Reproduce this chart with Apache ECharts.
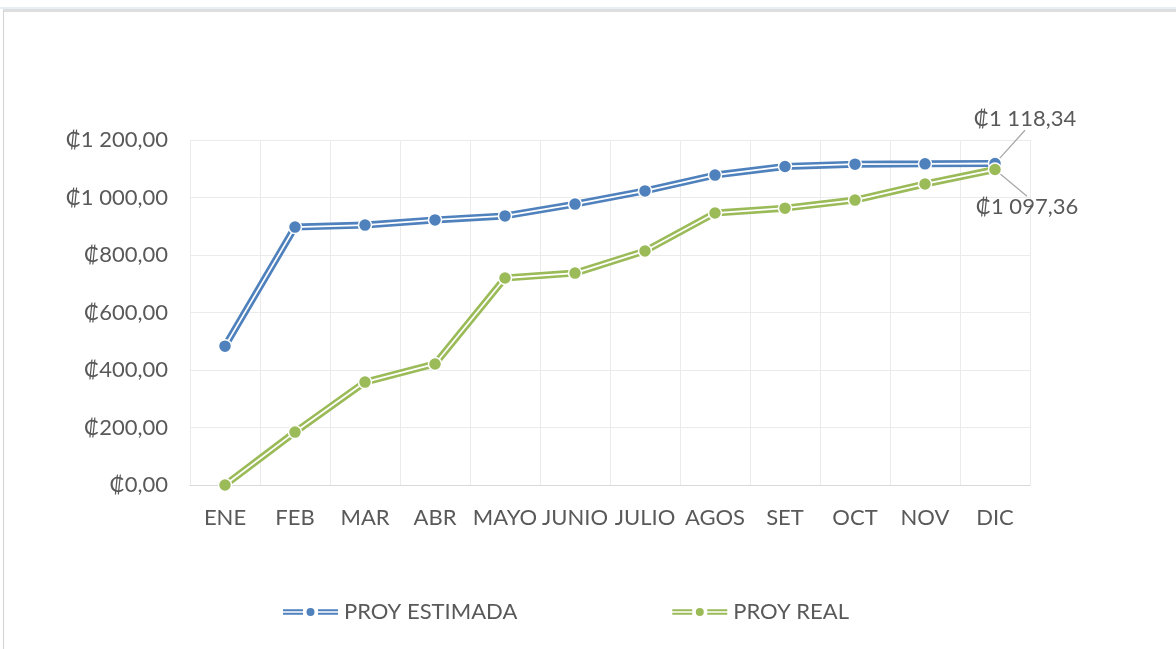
<!DOCTYPE html>
<html>
<head>
<meta charset="utf-8">
<script src="https://cdn.jsdelivr.net/npm/echarts@6/dist/echarts.min.js"></script>
<style>
body{margin:0;background:#fff;}
#chart{position:absolute;left:0;top:0;width:1176px;height:649px;}
.band{position:absolute;left:0;top:7px;width:1176px;height:2px;background:#e6eef6;pointer-events:none;}
.frame{position:absolute;left:3px;top:9px;width:1173px;height:640px;border-top:3px solid #dedede;border-left:1px solid #d2d2d2;pointer-events:none;}
</style>
</head>
<body>
<div id="chart"></div>
<div class="band"></div>
<div class="frame"></div>
<script>
// meses
var meses = ["ENE","FEB","MAR","ABR","MAYO","JUNIO","JULIO","AGOS","SET","OCT","NOV","DIC"];
// proyeccion estimada
var estimada = [483, 897, 904, 922, 936, 977, 1023, 1078, 1108, 1116, 1117, 1118.34];
// proyeccion real
var real = [0, 184, 358, 421, 720, 737, 814, 946, 963, 991, 1047, 1097.36];

var azul = "#4f81bd";
var verde = "#9bbb59";
var gris = "#595959";
var fuente = "Lato, 'DejaVu Sans', sans-serif";

//formato colones
function colones(v){
	var partes = v.toFixed(2).split(".");
	var entero = partes[0].replace(/\B(?=(\d{3})+(?!\d))/g, " ");
	return "\u20a1" + entero + "," + partes[1];
}

//datos con etiqueta en el ultimo punto
function condatos(arr){
	return arr.map(function(v, i){
		if(i == arr.length - 1){
			return {value: v, label: {show: true}, labelLine: {show: true}};
		}
		return v;
	});
}

//icono de leyenda: doble linea con punto
var icono = "path://M0,1.5h20v2h-20z M0,5h20v2h-20z M35,1.5h20v2h-20z M35,5h20v2h-20z M23.5,4.25a4,4 0 1,0 8,0a4,4 0 1,0 -8,0z";

var myChart = echarts.init(document.getElementById("chart"));

function lineas(nombre, datos, color, dx, dy){
	return [{
		name: nombre + "_fondo",
		type: "line",
		data: datos,
		showSymbol: false,
		symbol: "none",
		lineStyle: {color: color, width: 7},
		itemStyle: {color: color},
		silent: true,
		z: 2
	},{
		name: nombre,
		type: "line",
		data: condatos(datos),
		symbol: "circle",
		symbolSize: 13,
		itemStyle: {color: color, borderColor: "#fff", borderWidth: 1.5},
		lineStyle: {color: "#fff", width: 1.8},
		label: {
			show: false,
			formatter: function(p){ return colones(p.value); },
			color: gris,
			fontSize: 22,
			fontFamily: fuente
		},
		labelLayout: {dx: dx, dy: dy},
		labelLine: {show: true, lineStyle: {color: "#a6a6a6", width: 1.2}},
		z: 3
	}];
}

var series = [].concat(lineas("PROY ESTIMADA", estimada, azul, 30, -21), lineas("PROY REAL", real, verde, 32, 61));

myChart.setOption({
	animation: false,
	grid: {left: 190, right: 146, top: 140, bottom: 164},
	legend: {
		data: ["PROY ESTIMADA", "PROY REAL"],
		left: 278,
		top: 596,
		itemWidth: 55,
		itemHeight: 8,
		itemGap: 155,
		icon: icono,
		itemStyle: {borderWidth: 0},
		textStyle: {color: gris, fontSize: 22, fontFamily: fuente, padding: [0, 0, 0, 1]}
	},
	xAxis: {
		type: "category",
		data: meses,
		boundaryGap: true,
		axisLine: {lineStyle: {color: "#d9d9d9"}},
		axisTick: {show: false},
		splitLine: {show: true, lineStyle: {color: "#ebebeb"}},
		axisLabel: {color: gris, fontSize: 22, fontFamily: fuente, margin: 22, interval: 0}
	},
	yAxis: {
		type: "value",
		min: 0,
		max: 1200,
		interval: 200,
		axisLine: {show: false},
		axisTick: {show: false},
		splitLine: {lineStyle: {color: "#ebebeb"}},
		axisLabel: {color: gris, fontSize: 22, fontFamily: fuente, margin: 22, formatter: colones}
	},
	series: series
});
</script>
</body>
</html>
